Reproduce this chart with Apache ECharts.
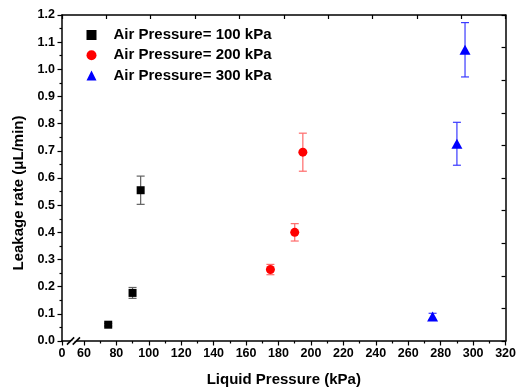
<!DOCTYPE html>
<html>
<head>
<meta charset="utf-8">
<script src="https://cdn.jsdelivr.net/npm/echarts@6/dist/echarts.min.js"></script>
<style>
html,body{margin:0;padding:0;background:#fff;}
#c{width:519px;height:392px;}
</style>
</head>
<body>
<div id="c"></div>
<script>
// ---- data ----
const seriesNames = ['Air Pressure= 100 kPa', 'Air Pressure= 200 kPa', 'Air Pressure= 300 kPa'];
const x100 = [75, 90, 95];
const y100 = [0.06, 0.177, 0.555];
const e100 = [0.005, 0.02, 0.052];
const x200 = [175, 190, 195];
const y200 = [0.263, 0.40, 0.695];
const e200 = [0.019, 0.032, 0.07];
const x300 = [275, 290, 295];
const y300 = [0.09, 0.726, 1.072];
const e300 = [0.012, 0.079, 0.1];
const xBreakLabel = '0';
const xTicks = [60, 80, 100, 120, 140, 160, 180, 200, 220, 240, 260, 280, 300, 320];
const xMinorTicks = [70, 90, 110, 130, 150, 170, 190, 210, 230, 250, 270, 290, 310];
const yTicks = ['0.0','0.1','0.2','0.3','0.4','0.5','0.6','0.7','0.8','0.9','1.0','1.1','1.2'];
const xTitle = 'Liquid Pressure (kPa)';
const yTitle = 'Leakage rate (\u03bcL/min)';

// axis position that stands for "0" after the break
const XMIN = 46.5;
const XMAX = 320;

const FONT = "'Liberation Sans', Arial, sans-serif";
const colors = ['#000000', '#ff0000', '#0000ff'];
const errColors = ['#606060', '#ff6a6a', '#3a3aff'];
const symbols = ['rect', 'circle', 'triangle'];
const symSizes = [8, 9, [11, 10]];

function zip(xs, ys) { return xs.map((v, i) => [v, ys[i]]); }
function zip3(xs, ys, es) { return xs.map((v, i) => [v, ys[i], es[i]]); }

const sets = [[x100, y100, e100], [x200, y200, e200], [x300, y300, e300]];

const chart = echarts.init(document.getElementById('c'), null, {renderer: 'canvas'});

const series = [];
sets.forEach((s, i) => {
  series.push({
    name: 'err' + i,
    type: 'custom',
    xAxisIndex: 0, yAxisIndex: 0,
    z: 2,
    encode: {x: 0, y: 1},
    data: zip3(s[0], s[1], s[2]),
    renderItem: function (params, api) {
      const x = api.value(0), y = api.value(1), e = api.value(2);
      const t = api.coord([x, y + e]);
      const b = api.coord([x, y - e]);
      const h = 4;
      const st = {stroke: errColors[i], lineWidth: 1.2};
      return {type: 'group', children: [
        {type: 'line', shape: {x1: t[0], y1: t[1], x2: b[0], y2: b[1]}, style: st},
        {type: 'line', shape: {x1: t[0] - h, y1: t[1], x2: t[0] + h, y2: t[1]}, style: st},
        {type: 'line', shape: {x1: b[0] - h, y1: b[1], x2: b[0] + h, y2: b[1]}, style: st}
      ]};
    }
  });
});
sets.forEach((s, i) => {
  series.push({
    name: seriesNames[i],
    type: 'scatter',
    xAxisIndex: 0, yAxisIndex: 0,
    z: 5,
    symbol: symbols[i],
    symbolSize: symSizes[i],
    itemStyle: {color: colors[i], opacity: 1},
    emphasis: {disabled: true},
    data: zip(s[0], s[1])
  });
});

const axisLineStyle = {color: '#000', width: 1.5};
const labelStyle = {color: '#000', fontFamily: FONT, fontWeight: 'bold', fontSize: 12.5};

const option = {
  animation: false,
  backgroundColor: '#fff',
  grid: {left: 62, right: 11.5, top: 15, bottom: 49.3, containLabel: false},
  legend: {
    data: seriesNames.map((n, i) => ({name: n, icon: symbols[i]})),
    orient: 'vertical',
    left: 86.5,
    top: 27.5,
    padding: 0,
    itemWidth: 10,
    itemHeight: 10,
    itemGap: 5.3,
    selectedMode: false,
    textStyle: {color: '#000', fontFamily: FONT, fontWeight: 'bold', fontSize: 15, lineHeight: 15, padding: [0, 0, 0, 12]}
  },
  xAxis: [
    {
      type: 'value', position: 'bottom', min: XMIN, max: XMAX,
      name: xTitle, nameLocation: 'middle', nameGap: 31,
      nameTextStyle: {color: '#000', fontFamily: FONT, fontWeight: 'bold', fontSize: 15},
      axisLine: {show: true, onZero: false, lineStyle: axisLineStyle},
      axisTick: {show: true, inside: false, length: 4.5, lineStyle: {color: '#000', width: 1.2},
        customValues: [XMIN].concat(xTicks)},
      axisLabel: Object.assign({show: true, margin: 6.5,
        customValues: [XMIN].concat(xTicks),
        formatter: function (v) { return Math.abs(v - XMIN) < 1e-6 ? xBreakLabel : String(Math.round(v)); }
      }, labelStyle),
      splitLine: {show: false}
    },
    {
      type: 'value', position: 'top', min: 0, max: 10, interval: 1,
      axisLine: {show: true, onZero: false, lineStyle: axisLineStyle},
      axisTick: {show: true, inside: true, length: 4, lineStyle: {color: '#000', width: 1.2}},
      axisLabel: {show: false},
      splitLine: {show: false}
    },
    {
      type: 'value', position: 'bottom', min: XMIN, max: XMAX,
      axisLine: {show: false, onZero: false},
      axisTick: {show: true, inside: false, length: 2.5, lineStyle: {color: '#000', width: 1.2},
        customValues: xMinorTicks},
      axisLabel: {show: false},
      splitLine: {show: false}
    }
  ],
  yAxis: [
    {
      type: 'value', position: 'left', min: 0, max: 1.2, interval: 0.1,
      name: yTitle, nameLocation: 'middle', nameGap: 36,
      nameTextStyle: {color: '#000', fontFamily: FONT, fontWeight: 'bold', fontSize: 15, padding: [0, 30, 0, 0]},
      axisLine: {show: true, onZero: false, lineStyle: axisLineStyle},
      axisTick: {show: true, inside: false, length: 4.5, lineStyle: {color: '#000', width: 1.2}},
      minorTick: {show: true, splitNumber: 2, length: 2.5, lineStyle: {color: '#000', width: 1.2}},
      axisLabel: Object.assign({show: true, margin: 7,
        formatter: function (v) { const k = Math.round(v * 10); return yTicks[k] !== undefined ? yTicks[k] : ''; }
      }, labelStyle),
      splitLine: {show: false}
    },
    {
      type: 'value', position: 'right', min: 0, max: 10, interval: 1,
      axisLine: {show: true, onZero: false, lineStyle: axisLineStyle},
      axisTick: {show: true, inside: true, length: 4, lineStyle: {color: '#000', width: 1.2}},
      axisLabel: {show: false},
      splitLine: {show: false}
    }
  ],
  series: series
};

chart.setOption(option);

// axis break marks "//" drawn at the axis break between 0 and 60
const px0 = chart.convertToPixel({xAxisIndex: 0}, XMIN);
const px60 = chart.convertToPixel({xAxisIndex: 0}, xTicks[0]);
const py0 = chart.convertToPixel({yAxisIndex: 0}, 0);
const mid = (px0 + px60) / 2 + 0.5;
const d = 3.6, sep = 2.9;
const s1 = mid - sep, s2 = mid + sep;
chart.setOption({
  graphic: [
    {type: 'polygon', z: 100, silent: true,
      shape: {points: [[s1 - d + 0.8, py0 + 2], [s2 - d - 0.8, py0 + 2], [s2 + d - 0.8, py0 - 2], [s1 + d + 0.8, py0 - 2]]},
      style: {fill: '#fff'}},
    {type: 'line', z: 101, silent: true,
      shape: {x1: s1 - d, y1: py0 + d, x2: s1 + d, y2: py0 - d},
      style: {stroke: '#000', lineWidth: 1.5}},
    {type: 'line', z: 101, silent: true,
      shape: {x1: s2 - d, y1: py0 + d, x2: s2 + d, y2: py0 - d},
      style: {stroke: '#000', lineWidth: 1.5}}
  ]
});
</script>
</body>
</html>
